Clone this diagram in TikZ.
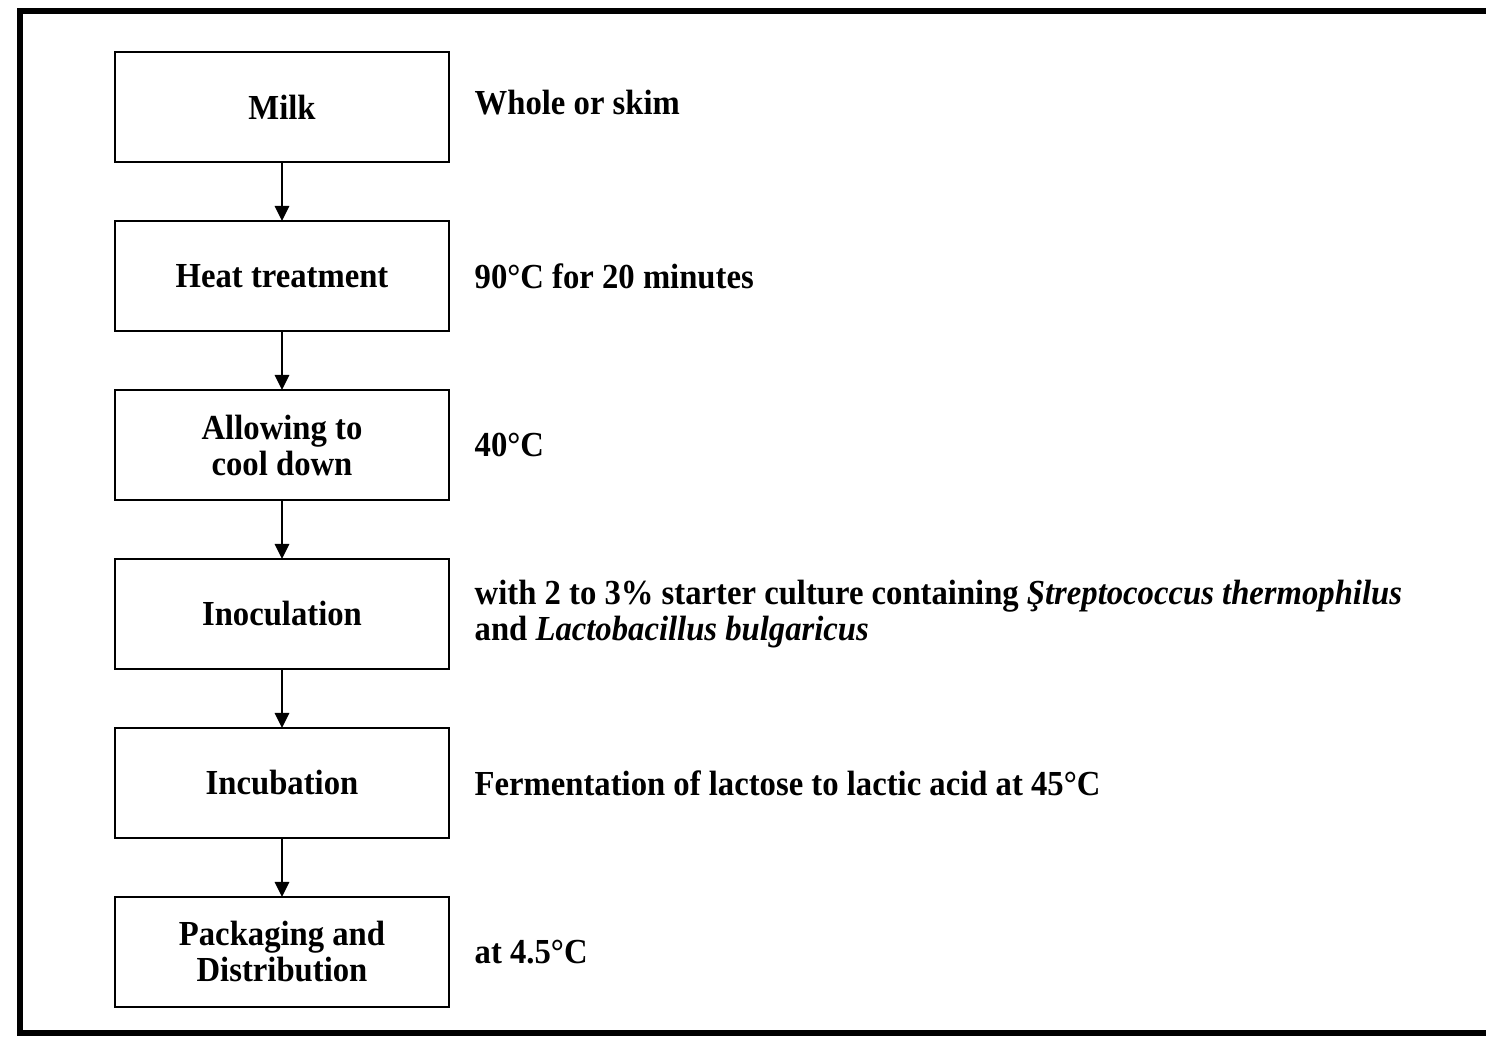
\documentclass[tikz,border=0pt]{standalone}
\usepackage{fontspec}
\setmainfont{Liberation Serif}[FakeStretch=0.93]
\usepackage{xcolor}
\usepackage{tikz}
\usetikzlibrary{positioning, arrows.meta}

\begin{document}
\begin{tikzpicture}[node distance=1.18cm, thick,
    stage/.style={draw, line width=1.6pt, minimum width=6.68cm, minimum height=2.2cm,
                  inner sep=2pt, outer sep=0pt, align=center,
                  font=\fontsize{20}{20.5}\selectfont\bfseries},
    note/.style={inner sep=0pt, anchor=west, align=left,
                 font=\fontsize{20}{20.5}\selectfont\bfseries},
    flow/.style={line width=1.6pt, -{Triangle[length=0.3cm, width=0.28cm]}}]
       \useasboundingbox (0,0) rectangle (29.72,-20.82);
       % outer frame, open on the right
       \draw[line width=3pt] (29.72,-0.22) -- (0.40,-0.22) -- (0.40,-20.66) -- (29.72,-20.66);

       \node[stage] (milk) at (5.64,-2.14) {Milk};
       \node[stage] (heat) [below=of milk] {Heat treatment};
       \node[stage] (cool) [below=of heat] {Allowing to\\cool down};
       \node[stage] (inoc) [below=of cool] {Inoculation};
       \node[stage] (incub) [below=of inoc] {Incubation};
       \node[stage] (pack) [below=of incub] {Packaging and\\Distribution};

       \node[note] (milknote) [right=0.5cm of milk, yshift=0.08cm] {Whole or skim};
       \node[note] (heatnote) [right=0.5cm of heat] {90°C for 20 minutes};
       \node[note] (coolnote) [right=0.5cm of cool] {40°C};
       \node[note] (inocnote) [right=0.5cm of inoc] {with 2 to 3\% starter culture containing \textit{Ştreptococcus thermophilus}\\and \textit{Lactobacillus bulgaricus}};
       \node[note] (incubnote) [right=0.5cm of incub] {Fermentation of lactose to lactic acid at 45°C};
       \node[note] (packnote) [right=0.5cm of pack] {at 4.5°C};

       \path[flow]
       (milk) edge (heat)
       (heat) edge (cool)
       (cool) edge (inoc)
       (inoc) edge (incub)
       (incub) edge (pack);
    \end{tikzpicture}
\end{document}
